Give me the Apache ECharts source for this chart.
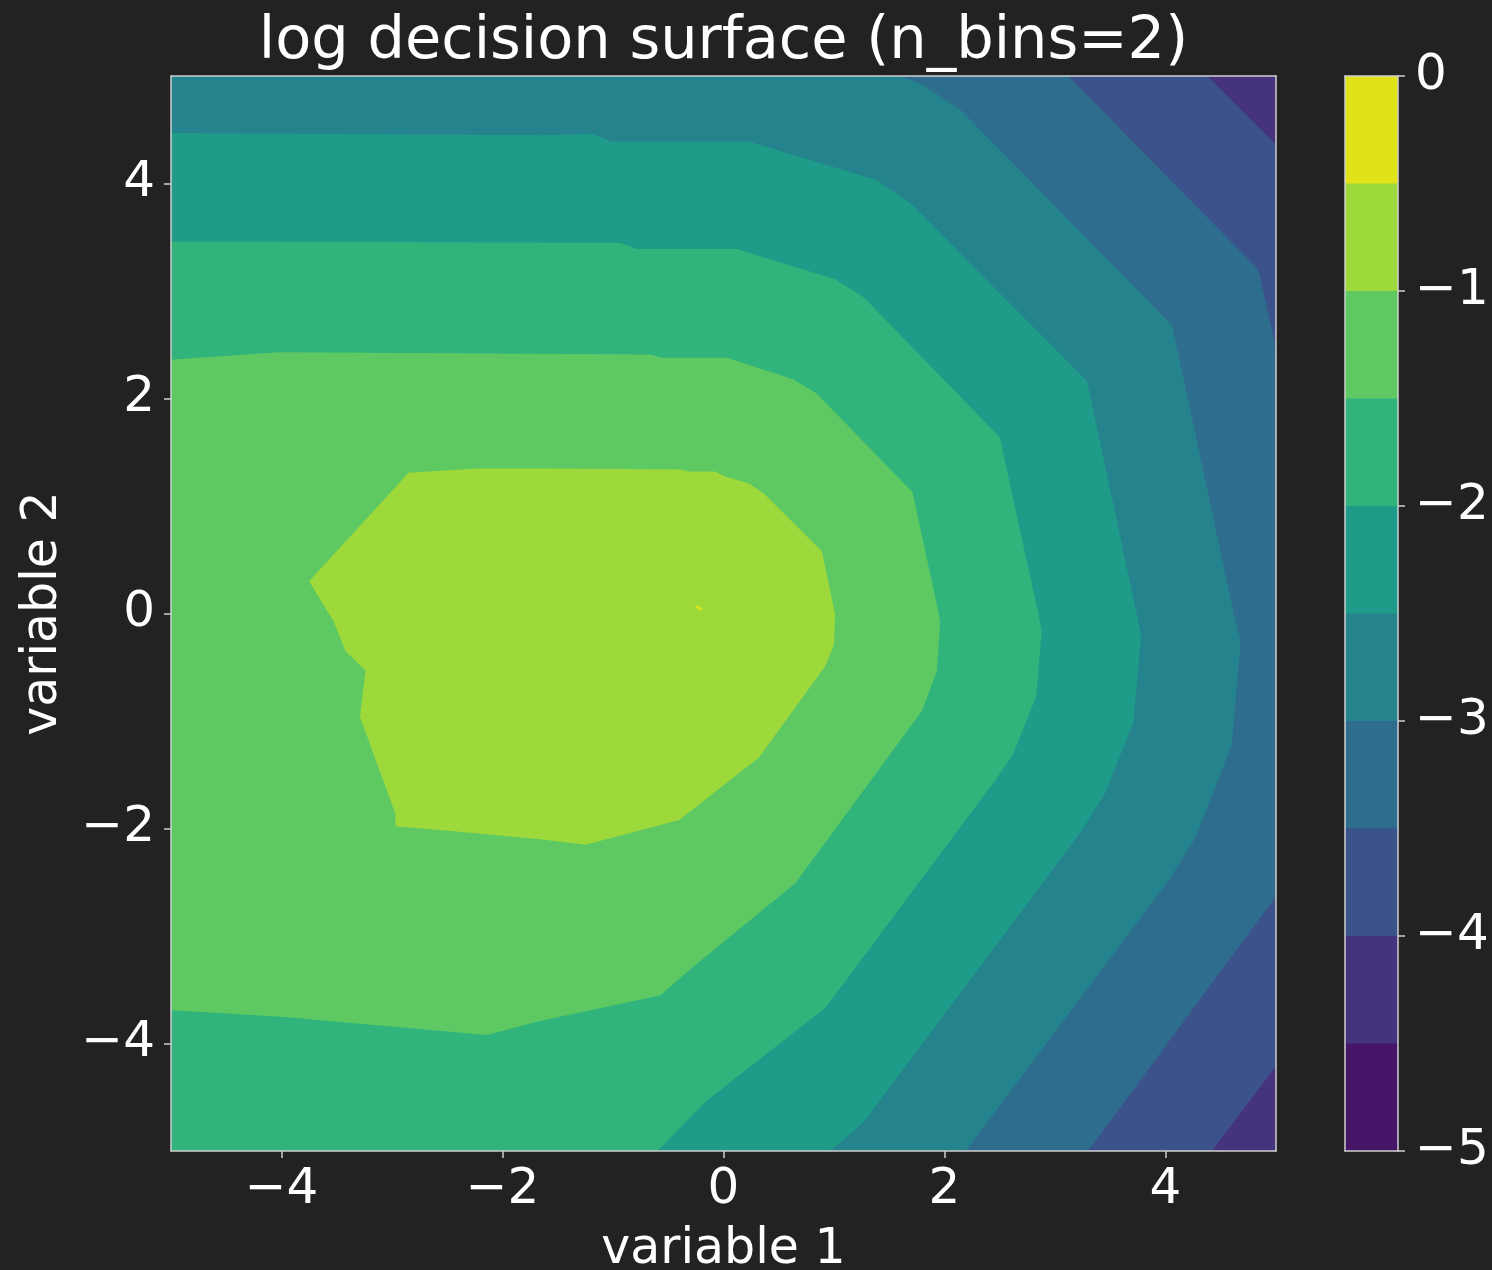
<!DOCTYPE html>
<html>
<head>
<meta charset="utf-8">
<script src="https://cdn.jsdelivr.net/npm/echarts@6/dist/echarts.min.js"></script>
<style>
  html, body { margin: 0; padding: 0; background: #222222; }
  #chart { width: 1492px; height: 1270px; }
</style>
</head>
<body>
<div id="chart"></div>
<script>
// Axis extents and tick positions
const xRange = [-5, 5];
const yRange = [-5, 5];
const xTicks = [-4, -2, 0, 2, 4];
const yTicks = [-4, -2, 0, 2, 4];

// Contour level edges (log probability) and the viridis colour of each band
const levelEdges = [-5, -4.5, -4, -3.5, -3, -2.5, -2, -1.5, -1, -0.5, 0];
const bandColors = ['#481668', '#46337e', '#3b528b', '#2e6d8e', '#25838e',
                    '#1f9c89', '#30b47b', '#5ec962', '#9dd93b', '#dfe318'];
const colorbarTicks = [-5, -4, -3, -2, -1, 0];

// Iso-lines in data units (variable 1, variable 2).
// Higher values always lie towards the left / centre of the plot.
const isoM40 = [[4.38, 5], [5, 4.36], [5, -4.21], [4.42, -5]];
const isoM35 = [[3.12, 5], [4.84, 3.20], [5, 2.47], [5, -2.63], [3.30, -5]];
const isoM30 = [[1.58, 5], [1.69, 4.96], [1.78, 4.93], [2.14, 4.69], [4.06, 2.68],
                [4.62, -0.01], [4.68, -0.26], [4.60, -1.22], [4.27, -2.09],
                [4.03, -2.48], [2.19, -5]];
const isoM25 = [[-5, 4.47], [-3.55, 4.46], [-1.61, 4.45], [-1.19, 4.46], [-1.01, 4.39],
                [0.23, 4.39], [1.39, 4.03], [1.71, 3.80], [3.29, 2.16], [3.74, -0.01],
                [3.78, -0.20], [3.71, -1.01], [3.45, -1.68], [3.24, -2.02],
                [1.78, -4.03], [1.27, -4.73], [0.97, -5]];
const isoM20 = [[-5, 3.46], [-0.94, 3.45], [-0.78, 3.39], [0.12, 3.39], [1.01, 3.11],
                [1.27, 2.94], [2.50, 1.64], [2.85, -0.01], [2.88, -0.16], [2.83, -0.77],
                [2.62, -1.31], [2.46, -1.55], [0.92, -3.67], [-0.15, -4.53], [-0.60, -5]];
const isoM15 = [[-5, 2.36], [-4.03, 2.43], [-0.66, 2.41], [-0.56, 2.38], [0.03, 2.38],
                [0.63, 2.18], [0.84, 2.05], [1.71, 1.13], [1.95, -0.01], [1.96, -0.10],
                [1.93, -0.54], [1.80, -0.90], [0.65, -2.51], [-0.29, -3.30],
                [-0.57, -3.55], [-1.66, -3.79], [-2.14, -3.92], [-4.00, -3.75], [-5, -3.69]];
const isoM10 = [[-2.85, 1.31], [-2.22, 1.35], [-1.61, 1.35], [-0.39, 1.34], [-0.32, 1.32],
                [-0.08, 1.32], [0.03, 1.27], [0.23, 1.21], [0.36, 1.12], [0.89, 0.58],
                [1.01, -0.01], [1.00, -0.29], [0.92, -0.49], [0.32, -1.34], [-0.40, -1.92],
                [-1.25, -2.15], [-1.66, -2.10], [-2.49, -2.02], [-2.97, -1.98],
                [-2.97, -1.86], [-3.29, -0.96], [-3.24, -0.53], [-3.42, -0.35],
                [-3.53, -0.07], [-3.59, 0.03], [-3.75, 0.30]];
const isoM05 = [[-0.26, 0.075], [-0.22, 0.07], [-0.185, 0.04], [-0.20, 0.025], [-0.24, 0.05]];

const isoLines = [isoM40, isoM35, isoM30, isoM25, isoM20, isoM15, isoM10, isoM05];
const isoLevels = [-4.0, -3.5, -3.0, -2.5, -2.0, -1.5, -1.0, -0.5];
// lowest band present everywhere in the domain
const baseLevel = -4.5;

// Superlevel regions (value >= level), painted from lowest to highest
const regionLevels = [baseLevel].concat(isoLevels);

function regionPoints(k) {
  if (k === 0) {
    return [[xRange[0], yRange[1]], [xRange[1], yRange[1]],
            [xRange[1], yRange[0]], [xRange[0], yRange[0]]];
  }
  const pts = isoLines[k - 1].slice();
  const first = pts[0], last = pts[pts.length - 1];
  // close the region along the lower-left / upper-left corners of the domain
  if (last[1] === yRange[0]) pts.push([xRange[0], yRange[0]]);
  if (first[1] === yRange[1]) pts.push([xRange[0], yRange[1]]);
  return pts;
}

function bandIndex(level) {
  return Math.round((level - levelEdges[0]) / (levelEdges[1] - levelEdges[0]));
}

const minus = v => String(v).replace('-', '\u2212');
const FONT = 'DejaVu Sans';
const SPINE = '#d0d0d0';

const chart = echarts.init(document.getElementById('chart'), null, { renderer: 'canvas' });

const lineOnly = (extra) => Object.assign({
  axisLine: { show: true, onZero: false, lineStyle: { color: SPINE, width: 1.5 } },
  axisTick: { show: false },
  axisLabel: { show: false },
  splitLine: { show: false },
  z: 10
}, extra);

chart.setOption({
  backgroundColor: '#222222',
  animation: false,
  title: {
    text: 'log decision surface (n_bins=2)',
    left: 723.5,
    top: 13,
    padding: 0,
    textAlign: 'center',
    textStyle: { color: '#ffffff', fontSize: 59, fontWeight: 'normal', fontFamily: FONT }
  },
  grid: [
    { left: 171, top: 76, width: 1105, height: 1075, outerBoundsMode: 'none', containLabel: false },
    { left: 1345, top: 76, width: 53, height: 1075, outerBoundsMode: 'none', containLabel: false }
  ],
  xAxis: [
    {
      type: 'value', gridIndex: 0, position: 'bottom', min: xRange[0], max: xRange[1],
      axisLine: { show: true, onZero: false, lineStyle: { color: SPINE, width: 1.5 } },
      axisTick: { show: true, customValues: xTicks, length: 7, lineStyle: { color: SPINE, width: 1.5 } },
      axisLabel: { show: true, customValues: xTicks, formatter: minus, color: '#ffffff',
                   fontSize: 50, fontFamily: FONT, margin: 14 },
      splitLine: { show: false },
      name: 'variable 1', nameLocation: 'middle', nameGap: 75,
      nameTextStyle: { color: '#ffffff', fontSize: 49, fontFamily: FONT },
      z: 10
    },
    lineOnly({ type: 'value', gridIndex: 0, position: 'top', min: xRange[0], max: xRange[1] }),
    lineOnly({ type: 'value', gridIndex: 1, position: 'bottom', min: 0, max: 1 }),
    lineOnly({ type: 'value', gridIndex: 1, position: 'top', min: 0, max: 1 })
  ],
  yAxis: [
    {
      type: 'value', gridIndex: 0, position: 'left', min: yRange[0], max: yRange[1],
      axisLine: { show: true, onZero: false, lineStyle: { color: SPINE, width: 1.5 } },
      axisTick: { show: true, customValues: yTicks, length: 7, lineStyle: { color: SPINE, width: 1.5 } },
      axisLabel: { show: true, customValues: yTicks, formatter: minus, color: '#ffffff',
                   fontSize: 50, fontFamily: FONT, margin: 16 },
      splitLine: { show: false },
      name: 'variable 2', nameLocation: 'middle', nameGap: 103, nameRotate: 90,
      nameTextStyle: { color: '#ffffff', fontSize: 49, fontFamily: FONT },
      z: 10
    },
    lineOnly({ type: 'value', gridIndex: 0, position: 'right', min: yRange[0], max: yRange[1] }),
    lineOnly({ type: 'value', gridIndex: 1, position: 'left', min: levelEdges[0], max: levelEdges[levelEdges.length - 1] }),
    {
      type: 'value', gridIndex: 1, position: 'right',
      min: levelEdges[0], max: levelEdges[levelEdges.length - 1], interval: 1,
      axisLine: { show: true, onZero: false, lineStyle: { color: SPINE, width: 1.5 } },
      axisTick: { show: true, customValues: colorbarTicks, length: 7, lineStyle: { color: SPINE, width: 1.5 } },
      axisLabel: { show: true, customValues: colorbarTicks, formatter: minus, color: '#ffffff',
                   fontSize: 50, fontFamily: FONT, margin: 17 },
      splitLine: { show: false },
      z: 10
    }
  ],
  series: [
    {
      // filled contour bands
      type: 'custom',
      xAxisIndex: 0, yAxisIndex: 0,
      clip: true,
      z: 1,
      data: regionLevels.map(lv => [0, lv]),
      renderItem: function (params, api) {
        const k = params.dataIndex;
        const color = bandColors[bandIndex(regionLevels[k])];
        const pts = regionPoints(k).map(p => api.coord(p));
        return {
          type: 'polygon',
          shape: { points: pts },
          style: { fill: color, stroke: null }
        };
      },
      silent: true
    },
    {
      // colour bar: each band painted from its lower edge to the top, higher bands on top
      type: 'custom',
      xAxisIndex: 2, yAxisIndex: 2,
      z: 1,
      data: levelEdges.slice(0, -1).map((lo, i) => [0.5, (lo + levelEdges[i + 1]) / 2]),
      renderItem: function (params, api) {
        const i = params.dataIndex;
        const p0 = api.coord([0, levelEdges[i]]);
        const p1 = api.coord([1, levelEdges[levelEdges.length - 1]]);
        return {
          type: 'rect',
          shape: { x: p0[0], y: p1[1], width: p1[0] - p0[0], height: p0[1] - p1[1] },
          style: { fill: bandColors[i], stroke: null }
        };
      },
      silent: true
    }
  ]
});
</script>
</body>
</html>
